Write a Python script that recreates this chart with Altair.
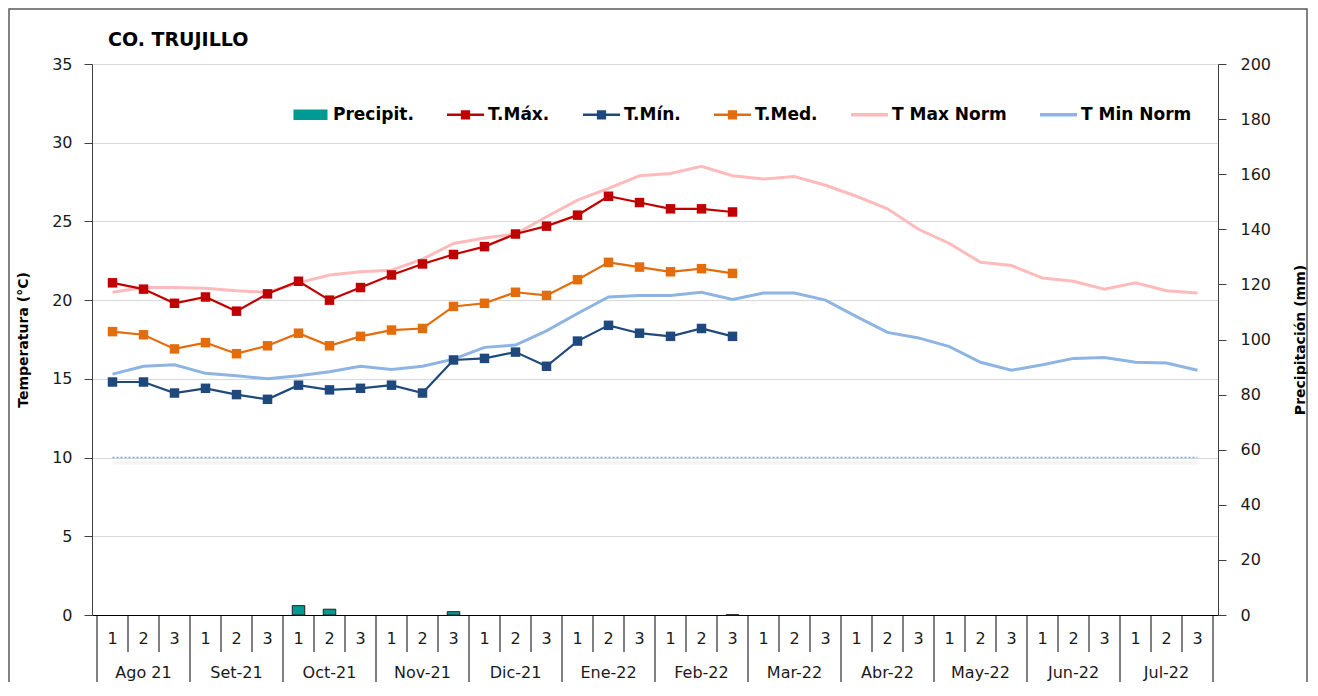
import altair as alt
import pandas as pd

# ---------------- data ----------------
months = ["Ago 21", "Set-21", "Oct-21", "Nov-21", "Dic-21", "Ene-22",
          "Feb-22", "Mar-22", "Abr-22", "May-22", "Jun-22", "Jul-22"]
dekads = ["1", "2", "3"]

t_max = [21.1, 20.7, 19.8, 20.2, 19.3, 20.4, 21.2, 20.0, 20.8, 21.6, 22.3,
         22.9, 23.4, 24.2, 24.7, 25.4, 26.6, 26.2, 25.8, 25.8, 25.6]
t_med = [18.0, 17.8, 16.9, 17.3, 16.6, 17.1, 17.9, 17.1, 17.7, 18.1, 18.2,
         19.6, 19.8, 20.5, 20.3, 21.3, 22.4, 22.1, 21.8, 22.0, 21.7]
t_min = [14.8, 14.8, 14.1, 14.4, 14.0, 13.7, 14.6, 14.3, 14.4, 14.6, 14.1,
         16.2, 16.3, 16.7, 15.8, 17.4, 18.4, 17.9, 17.7, 18.2, 17.7]
precip = [0, 0, 0, 0, 0, 0, 3.4, 2.1, 0, 0, 0,
          1.2, 0, 0, 0, 0, 0, 0, 0, 0, 0.1]

t_max_norm = [20.5, 20.8, 20.8, 20.75, 20.6, 20.5, 21.1, 21.6, 21.8, 21.9, 22.6, 23.6,
              23.95, 24.2, 25.3, 26.35, 27.1, 27.9, 28.05, 28.5, 27.9, 27.7, 27.85, 27.3,
              26.6, 25.8, 24.5, 23.6, 22.4, 22.2, 21.4, 21.2, 20.7, 21.1, 20.6, 20.45]
t_min_norm = [15.3, 15.8, 15.9, 15.35, 15.2, 15.0, 15.2, 15.45, 15.8, 15.6, 15.8, 16.25,
              17.0, 17.15, 18.05, 19.15, 20.2, 20.3, 20.3, 20.5, 20.05, 20.45, 20.45, 20.0,
              18.95, 17.95, 17.6, 17.05, 16.05, 15.55, 15.9, 16.3, 16.35, 16.05, 16.0, 15.55]

threshold = 10

series_names = ["Precipit.", "T.Máx.", "T.Mín.", "T.Med.", "T Max Norm", "T Min Norm"]
series_colors = ["#009A94", "#C00000", "#1F497D", "#E46C0A", "#FFBBBB", "#8DB4E2"]

temp_ticks = [0, 5, 10, 15, 20, 25, 30, 35]
precip_ticks = [0, 20, 40, 60, 80, 100, 120, 140, 160, 180, 200]

# ---------------- tables ----------------
n_dek = len(dekads)
n_all = len(months) * n_dek

obs = pd.DataFrame({
    "pos": [i + 0.5 for i in range(len(t_max))],
    "tmax": t_max, "tmed": t_med, "tmin": t_min, "precip": precip,
})
norm = pd.DataFrame({
    "pos": [i + 0.5 for i in range(n_all)],
    "tmaxn": t_max_norm, "tminn": t_min_norm,
})
legend_df = pd.concat([
    pd.DataFrame({"pos": obs["pos"], "value": obs[c], "series": s})
    for c, s in [("tmax", series_names[1]), ("tmin", series_names[2]), ("tmed", series_names[3])]
])
thr_df = pd.DataFrame({"x1": [0.5], "x2": [n_all - 0.5], "y": [threshold]})

labels_df = pd.DataFrame([
    {"pos": mi * n_dek + di + 0.5, "dekad": d}
    for mi in range(len(months)) for di, d in enumerate(dekads)
])
months_df = pd.DataFrame({
    "pos": [mi * n_dek + n_dek / 2 for mi in range(len(months))],
    "month": months,
})
bounds = list(range(n_all + 1))
sep_df = pd.DataFrame({"b": bounds, "edge": [b % n_dek == 0 for b in bounds]})

# ---------------- style ----------------
FONT = "DejaVu Sans"
W, H = 1126, 551

xscale = alt.Scale(domain=[0, n_all], nice=False, zero=False)
xaxis = alt.Axis(labels=False, ticks=False, grid=False, title=None,
                 domainColor="black", domainWidth=1)


def X(f):
    return alt.X(f"{f}:Q", scale=xscale, axis=xaxis)


yscale_t = alt.Scale(domain=[0, 35], nice=False)
yaxis_t = alt.Axis(values=temp_ticks, title="Temperatura (°C)", titleFont=FONT,
                   titleFontSize=14, titleFontWeight="bold", titleColor="black",
                   titlePadding=21, labelFont=FONT, labelFontSize=16, labelColor="#1a1a1a",
                   labelPadding=12, tickSize=8, tickColor="#404040", domainColor="#404040",
                   grid=True, gridColor="#D9D9D9")


def Y(f):
    return alt.Y(f"{f}:Q", scale=yscale_t, axis=yaxis_t)


paths = [
    "M-0.92,-0.29H0.92V0.29H-0.92Z",
    "M-1,-0.065H1V0.065H-1Z M-0.25,-0.25H0.25V0.25H-0.25Z",
    "M-1,-0.065H1V0.065H-1Z M-0.25,-0.25H0.25V0.25H-0.25Z",
    "M-1,-0.065H1V0.065H-1Z M-0.25,-0.25H0.25V0.25H-0.25Z",
    "M-1,-0.09H1V0.09H-1Z",
    "M-1,-0.09H1V0.09H-1Z",
]
leg = alt.Legend(title=None, orient="none", legendX=200, legendY=32,
                 direction="horizontal", columns=6, symbolSize=1369,
                 symbolStrokeWidth=0, labelFont=FONT, labelFontSize=17,
                 labelFontWeight="bold", labelColor="black", labelOffset=4,
                 columnPadding=33, padding=0, labelLimit=300)

# ---------------- layers ----------------
frame = alt.Chart(pd.DataFrame({"k": [0]})).mark_rect(
    fillOpacity=0, stroke="#595959", strokeWidth=1.5
).encode(x=alt.value(-83), x2=alt.value(W + 89), y=alt.value(-55), y2=alt.value(H + 90))

thr_shadow = alt.Chart(thr_df).mark_rule(color="#F4F4F4", strokeWidth=4, yOffset=5).encode(
    x=X("x1"), x2="x2", y=Y("y"))
thr = alt.Chart(thr_df).mark_rule(color="#7FA7DB", strokeWidth=1.5, strokeDash=[2, 2]).encode(
    x=X("x1"), x2="x2", y=Y("y"))

norm_max = alt.Chart(norm).mark_line(color=series_colors[4], strokeWidth=3).encode(
    x=X("pos"), y=Y("tmaxn"))
norm_min = alt.Chart(norm).mark_line(color=series_colors[5], strokeWidth=3).encode(
    x=X("pos"), y=Y("tminn"))

obs_layers = []
for col, color in [("tmed", series_colors[3]), ("tmin", series_colors[2]), ("tmax", series_colors[1])]:
    base = alt.Chart(obs)
    obs_layers.append(base.mark_line(color=color, strokeWidth=2.2).encode(x=X("pos"), y=Y(col)))
    obs_layers.append(base.mark_point(shape="square", filled=True, size=90, opacity=1,
                                      color=color).encode(x=X("pos"), y=Y(col)))

legend_layer = alt.Chart(legend_df).mark_point(filled=True, size=0, opacity=1).encode(
    x=X("pos"), y=Y("value"),
    color=alt.Color("series:N", scale=alt.Scale(domain=series_names, range=series_colors), legend=leg),
    shape=alt.Shape("series:N", scale=alt.Scale(domain=series_names, range=paths), legend=leg),
)

sep_short = alt.Chart(sep_df).transform_filter("!datum.edge").mark_rule(
    color="black", strokeWidth=1).encode(x=X("b"), y=alt.value(H), y2=alt.value(H + 37))
sep_long = alt.Chart(sep_df).transform_filter("datum.edge").mark_rule(
    color="black", strokeWidth=1).encode(x=X("b"), y=alt.value(H), y2=alt.value(H + 72))

dek_text = alt.Chart(labels_df).mark_text(font=FONT, fontSize=16, color="#1a1a1a",
                                          baseline="middle", align="center").encode(
    x=X("pos"), y=alt.value(H + 24), text="dekad:N")
mon_text = alt.Chart(months_df).mark_text(font=FONT, fontSize=16, color="#1a1a1a",
                                          baseline="middle", align="center").encode(
    x=X("pos"), y=alt.value(H + 58), text="month:N")

temp = alt.layer(frame, thr_shadow, thr, norm_max, norm_min, *obs_layers, legend_layer,
                 sep_short, sep_long, dek_text, mon_text)

precip_chart = alt.Chart(obs).transform_filter("datum.precip > 0").mark_bar(
    size=12.5, color=series_colors[0], stroke="#222222", strokeWidth=1
).encode(
    x=X("pos"),
    y=alt.Y("precip:Q", scale=alt.Scale(domain=[0, 200], nice=False),
            axis=alt.Axis(orient="right", values=precip_ticks, title="Precipitación (mm)",
                          titleFont=FONT, titleFontSize=14, titleFontWeight="bold",
                          titleColor="black", titlePadding=37, titleAngle=270,
                          labelFont=FONT, labelFontSize=16, labelColor="#1a1a1a",
                          labelPadding=14, tickSize=8, tickColor="#404040",
                          domainColor="#404040", grid=False)),
)

chart = alt.layer(temp, precip_chart).resolve_scale(y="independent").properties(
    width=W, height=H,
    autosize=alt.AutoSizeParams(type="none"),
    padding={"left": 84, "top": 56, "right": 90, "bottom": 67},
    background="white",
    title=alt.TitleParams(text="CO. TRUJILLO", anchor="start", frame="group", dx=16,
                          offset=-42, font=FONT, fontSize=19, fontWeight="bold", color="black"),
).configure_view(stroke="#A6A6A6")

chart.save("out.html", embed_options={"renderer": "svg", "actions": False})
